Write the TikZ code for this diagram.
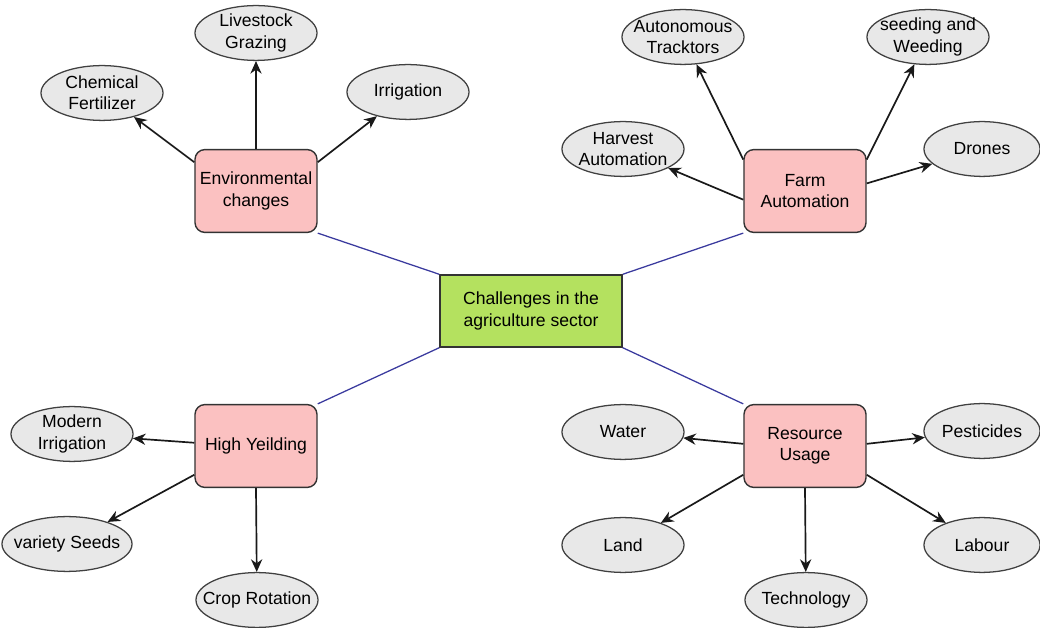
\documentclass[tikz,border=0pt]{standalone}
\usepackage{fontspec}
\setmainfont{Liberation Sans}
\usetikzlibrary{arrows.meta,shapes.geometric}

\definecolor{topicpink}{HTML}{FBC1C1}
\definecolor{rootgreen}{HTML}{B4E15F}
\definecolor{leafgray}{HTML}{E8E8E8}
\definecolor{linkblue}{HTML}{3A3A9E}

\begin{document}
\begin{tikzpicture}[x=0.025cm,y=-0.025cm,
        font=\fontsize{12.5}{15}\selectfont,
        topic/.style={draw=black!80,fill=topicpink,rounded corners=7pt,line width=1pt,align=center,inner xsep=2pt,minimum width=3.05cm,minimum height=2.07cm},
        leaf/.style={ellipse,draw=black!75,fill=leafgray,line width=0.9pt,align=center,inner xsep=-12pt,inner ysep=-2pt,minimum width=3.05cm,minimum height=1.37cm},
        link/.style={linkblue,line width=0.9pt},
        branch/.style={-{Stealth[length=9pt,width=8pt]},line width=1.2pt,black!90}]
        \useasboundingbox (0,0) rectangle (1040,628);

        \node[draw=black!80,fill=rootgreen,line width=1pt,align=center,minimum width=4.55cm,minimum height=1.8cm] (root) at (531,311){Challenges in the\\agriculture sector};

        \node[topic] (env) at (256,191){Environmental\\changes};
        \node[topic] (farm) at (805,191){Farm\\Automation};
        \node[topic] (yield) at (256,446){High Yeilding};
        \node[topic] (res) at (805,446){Resource\\Usage};

        % environmental changes
        \node[leaf] (chem) at (102,93){Chemical\\Fertilizer};
        \node[leaf] (graze) at (256,33){Livestock\\Grazing};
        \node[leaf] (irr) at (408,92){Irrigation};

        % farm automation
        \node[leaf] (auto) at (683,37){Autonomous\\Tracktors};
        \node[leaf] (seed) at (928,37){seeding and\\Weeding};
        \node[leaf] (harv) at (623,149){Harvest\\Automation};
        \node[leaf,minimum width=2.9cm] (drone) at (982,149){Drones};

        % high yeilding
        \node[leaf] (modirr) at (72,434){Modern\\Irrigation};
        \node[leaf,minimum width=3.25cm] (variety) at (67,544){variety Seeds};
        \node[leaf] (crop) at (257,600){Crop Rotation};

        % resource usage
        \node[leaf] (water) at (623,432){Water};
        \node[leaf,minimum width=2.9cm] (pest) at (982,431){Pesticides};
        \node[leaf] (land) at (623,545){Land};
        \node[leaf,minimum width=2.9cm] (labour) at (982,545){Labour};
        \node[leaf] (tech) at (806,600){Technology};

        \draw[link] (root.north west) -- (env.south east);
        \draw[link] (root.north east) -- (farm.south west);
        \draw[link] (root.south west) -- (yield.north east);
        \draw[link] (root.south east) -- (res.north west);

        \draw[branch] (env.155) -- (chem);
        \draw[branch] (env.north) -- (graze);
        \draw[branch] (env.25) -- (irr);

        \draw[branch] (farm.153) -- (auto);
        \draw[branch] (farm.188) -- (harv);
        \draw[branch] (farm.27) -- (seed);
        \draw[branch] (farm.7) -- (drone);

        \draw[branch] (yield.177) -- (modirr);
        \draw[branch] (yield.205) -- (variety);
        \draw[branch] (yield.south) -- (crop);

        \draw[branch] (res.178) -- (water);
        \draw[branch] (res.2) -- (pest);
        \draw[branch] (res.205) -- (land);
        \draw[branch] (res.south) -- (tech);
        \draw[branch] (res.335) -- (labour);
    \end{tikzpicture}
\end{document}
